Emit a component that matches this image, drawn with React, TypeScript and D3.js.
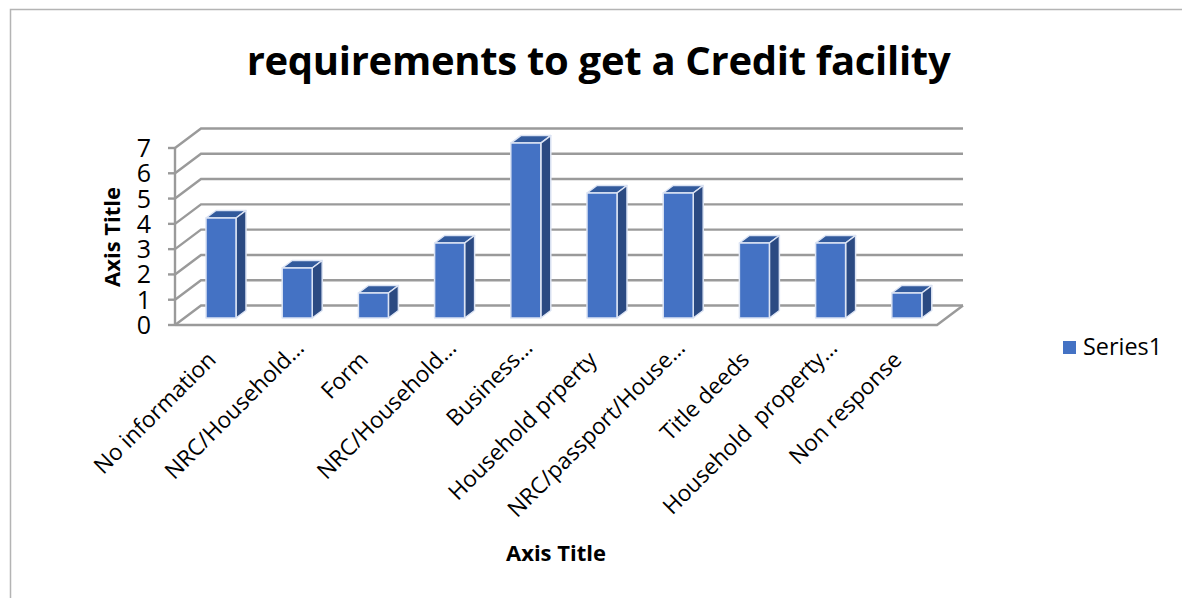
import React from "react";
import * as d3 from "d3";

const categories = [
  "No information",
  "NRC/Household…",
  "Form",
  "NRC/Household…",
  "Business…",
  "Household prperty",
  "NRC/passport/House…",
  "Title deeds",
  "Household  property…",
  "Non response",
];
const seriesValues = [4, 2, 1, 3, 7, 5, 5, 3, 3, 1];
const yTicks = [0, 1, 2, 3, 4, 5, 6, 7];

const FONT = "'Open Sans', 'Noto Sans', sans-serif";
const FRONT = "#4472C4";
const SIDE = "#2B4A82";
const TOP = "#325A9C";
const EDGE = "#DCE4F4";
const GRID = "#9A9A9A";

// Chart frame: the front plane of the 3-D box and its depth vector
const y = d3.scaleLinear().domain([0, 7]).range([325, 148]);
const x = d3.scaleBand<number>().domain(d3.range(categories.length)).range([175, 937]);
const depth = { dx: 26, dy: -19.5 };
const barDepth = { dx: 10, dy: -7.5 };
const barInset = 31;
const barWidth = 30;
const floorLift = 7;

const pts = (p: number[][]) => p.map((c) => c.join(",")).join(" ");

export default function App() {
  const right = x.range()[1];
  const left = x.range()[0];
  return (
    <svg
      width={1182}
      height={598}
      style={{ position: "absolute", left: 0, top: 0, background: "#fff", fontFamily: FONT }}
    >
      <path d="M10.5 598V9.5H1182" fill="none" stroke="#B4B4B4" strokeWidth={1.5} />

      <text
        x={598.5}
        y={75}
        textAnchor="middle"
        fontSize={40}
        fontWeight={700}
        fill="#000"
        letterSpacing={-0.3}
      >
        requirements to get a Credit facility
      </text>

      {/* Back wall gridlines and their receding links to the front axis */}
      {yTicks.map((t) => (
        <g key={t} stroke={GRID} strokeWidth={2.4} fill="none">
          <polyline
            points={pts([
              [left, y(t)],
              [left + depth.dx, y(t) + depth.dy],
              [right + depth.dx, y(t) + depth.dy],
            ])}
          />
          <line x1={left - 7} x2={left} y1={y(t)} y2={y(t)} />
        </g>
      ))}
      <line x1={left} x2={left} y1={y(0)} y2={y(7)} stroke={GRID} strokeWidth={2.4} />
      <polyline
        points={pts([
          [left, y(0)],
          [right, y(0)],
          [right + depth.dx, y(0) + depth.dy],
        ])}
        fill="none"
        stroke={GRID}
        strokeWidth={2.4}
      />

      {yTicks.map((t) => (
        <text key={t} x={151} y={y(t) + 9} textAnchor="end" fontSize={25} fill="#000">
          {t}
        </text>
      ))}

      {/* Columns */}
      {seriesValues.map((v, i) => {
        const x0 = (x(i) as number) + barInset;
        const x1 = x0 + barWidth;
        const yBase = y(0) - floorLift;
        const yTop = yBase - (y(0) - y(v)) * (25 / 25.29);
        return (
          <g key={i} stroke={EDGE} strokeWidth={1.5} strokeLinejoin="round">
            <polygon
              fill={TOP}
              points={pts([
                [x0, yTop],
                [x0 + barDepth.dx, yTop + barDepth.dy],
                [x1 + barDepth.dx, yTop + barDepth.dy],
                [x1, yTop],
              ])}
            />
            <polygon
              fill={SIDE}
              points={pts([
                [x1, yTop],
                [x1 + barDepth.dx, yTop + barDepth.dy],
                [x1 + barDepth.dx, yBase + barDepth.dy],
                [x1, yBase],
              ])}
            />
            <rect x={x0} y={yTop} width={barWidth} height={yBase - yTop} fill={FRONT} />
          </g>
        );
      })}

      {categories.map((c, i) => {
        // Shortened labels sit a little further along their slope
        const shortened = c.endsWith("…");
        const cx = (x(i) as number) + (shortened ? 43 : 31);
        const cy = shortened ? 338 : 350;
        return (
          <text
            key={i}
            transform={`translate(${cx},${cy}) rotate(-45)`}
            textAnchor="end"
            dy="0.7em"
            fontSize={22.6}
            fill="#000"
            style={{ whiteSpace: "pre" }}
          >
            {c}
          </text>
        );
      })}

      <text
        transform="translate(120,237) rotate(-90)"
        textAnchor="middle"
        fontSize={22}
        fontWeight={700}
        fill="#000"
      >
        Axis Title
      </text>
      <text x={556} y={561} textAnchor="middle" fontSize={22} fontWeight={700} fill="#000">
        Axis Title
      </text>

      <rect x={1063} y={341} width={13} height={13} fill={FRONT} />
      <text x={1083} y={355} fontSize={23.4} fill="#000">
        Series1
      </text>
    </svg>
  );
}
